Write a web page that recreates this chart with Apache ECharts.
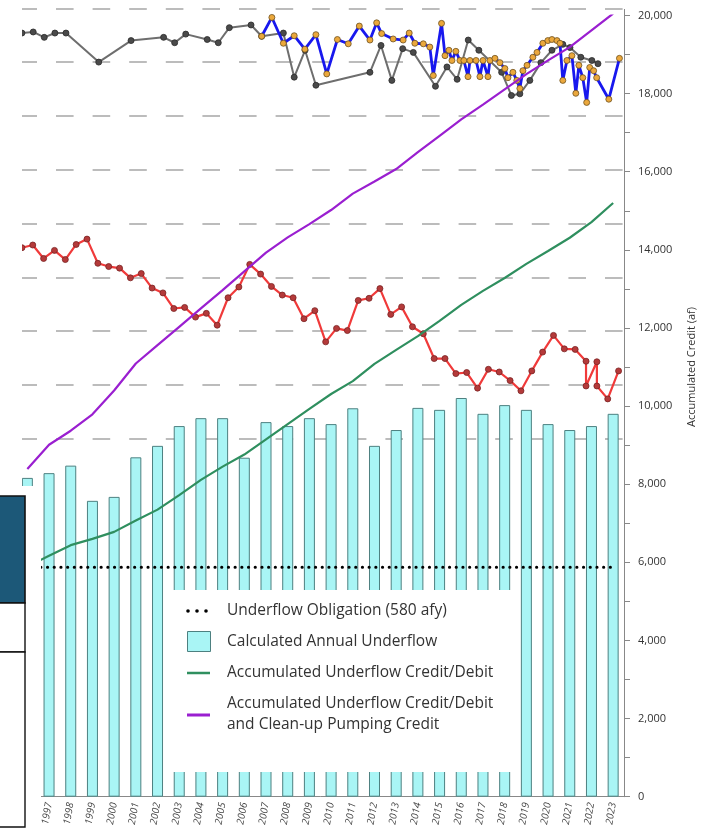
<!DOCTYPE html>
<html>
<head>
<meta charset="utf-8">
<script src="https://cdn.jsdelivr.net/npm/echarts@6/dist/echarts.min.js"></script>
<style>
  html, body { margin: 0; padding: 0; background: #fff; }
  #chart { width: 708px; height: 834px; }
</style>
</head>
<body>
<div id="chart"></div>
<script>
// Water years shown on the category axis
const years = ['1996','1997','1998','1999','2000','2001','2002','2003','2004','2005','2006','2007','2008','2009',
  '2010','2011','2012','2013','2014','2015','2016','2017','2018','2019','2020','2021','2022','2023'];

// Calculated annual underflow (afy)
const annualUnderflow = [806, 818, 837, 748, 758, 858, 887, 937, 957, 957, 857, 947, 937, 957,
  942, 982, 887, 927, 983, 978, 1008, 968, 990, 978, 942, 927, 937, 968];

// Underflow obligation (afy)
const obligationAfy = 580;

// Accumulated underflow credit/debit (af)
const accumCredit = [5890, 6170, 6440, 6600, 6780, 7070, 7350, 7720, 8110, 8450, 8760, 9150, 9540, 9930,
  10310, 10640, 11080, 11440, 11790, 12180, 12590, 12950, 13280, 13640, 13970, 14310, 14710, 15200];

// Accumulated underflow credit/debit plus clean-up pumping credit (af)
const accumWithCleanup = [8390, 9010, 9370, 9790, 10400, 11090, 11560, 12030, 12500, 12970, 13450, 13930, 14320, 14660,
  15020, 15440, 15750, 16070, 16500, 16920, 17340, 17720, 18110, 18500, 18850, 19190, 19620, 20050];

// Right axis ticks
const creditTicks = { min: 0, max: 20000, step: 2000 };

// Well hydrographs (decimal year, level)
const wellRed = [
  [1995.75,35.5],[1996.25,36.0],[1996.75,33.5],[1997.25,35.0],[1997.75,33.3],[1998.25,36.1],[1998.75,37.1],
  [1999.25,32.6],[1999.75,32.0],[2000.25,31.7],[2000.75,29.9],[2001.25,30.7],[2001.75,28.0],[2002.25,27.1],
  [2002.75,24.2],[2003.25,24.4],[2003.75,22.6],[2004.25,23.3],[2004.75,21.1],[2005.25,26.2],[2005.75,28.2],
  [2006.25,32.4],[2006.75,30.6],[2007.25,28.3],[2007.75,26.7],[2008.25,26.2],[2008.75,22.3],[2009.25,23.8],
  [2009.75,18.0],[2010.25,20.5],[2010.75,20.1],[2011.25,25.7],[2011.75,26.1],[2012.25,27.9],[2012.75,23.1],
  [2013.25,24.5],[2013.75,20.8],[2014.25,19.5],[2014.75,14.9],[2015.25,14.9],[2015.75,12.1],[2016.25,12.3],
  [2016.75,9.4],[2017.25,12.9],[2017.75,12.4],[2018.25,10.8],[2018.75,8.9],[2019.25,12.6],[2019.75,16.1],
  [2020.25,19.2],[2020.75,16.7],[2021.25,16.6],[2021.75,14.4],[2021.75,9.8],[2022.25,14.3],[2022.25,9.8],
  [2022.75,7.4],[2023.25,12.6]
];

const wellGray = [
  [1995.75,75.4],[1996.27,75.6],[1996.78,74.6],[1997.27,75.4],[1997.78,75.4],[1999.29,70.0],[2000.78,74.0],
  [2002.28,74.6],[2002.79,73.6],[2003.30,75.2],[2004.29,74.2],[2004.80,73.6],[2005.31,76.4],[2006.31,76.9],
  [2006.80,74.8],[2007.80,75.4],[2008.30,67.2],[2008.80,72.2],[2009.30,65.7],[2011.79,68.1],[2012.30,73.1],
  [2012.80,66.6],[2013.30,72.5],[2013.79,71.8],[2014.81,65.5],[2015.34,69.1],[2015.81,66.8],[2016.32,74.1],
  [2016.81,72.2],[2017.86,68.1],[2018.31,63.8],[2018.70,64.1],[2019.16,66.6],[2019.67,69.9],[2020.18,72.2],
  [2020.68,73.3],[2021.01,72.7],[2021.51,70.9],[2022.02,70.3],[2022.30,69.7]
];

const wellBlue = [
  [2006.80,74.8],[2007.27,78.3],[2007.80,73.5],[2008.30,74.9],[2008.79,72.4],[2009.30,75.1],[2009.80,67.8],
  [2010.29,74.2],[2010.79,73.4],[2011.30,76.7],[2011.79,74.1],[2012.10,77.3],[2012.33,75.3],[2012.86,74.3],
  [2013.32,74.1],[2013.60,75.4],[2013.86,73.5],[2014.25,73.4],[2014.55,72.8],[2014.71,67.5],[2015.09,77.2],
  [2015.25,71.2],[2015.43,72.2],[2015.57,70.3],[2015.75,72.0],[2015.94,70.3],[2016.12,70.3],[2016.31,67.3],
  [2016.40,70.3],[2016.68,70.3],[2016.86,67.3],[2017.00,70.3],[2017.23,67.3],[2017.32,70.3],[2017.55,70.7],
  [2017.78,69.9],[2018.01,68.8],[2018.15,67.1],[2018.38,68.1],[2018.56,66.6],[2018.70,65.1],[2018.84,68.4],
  [2019.03,69.4],[2019.30,70.9],[2019.49,71.8],[2019.76,73.5],[2019.99,74.0],[2020.18,74.2],[2020.41,74.0],
  [2020.55,73.5],[2020.68,66.6],[2020.87,70.3],[2021.10,71.2],[2021.28,64.2],[2021.42,69.4],[2021.60,67.1],
  [2021.78,62.5],[2021.92,69.0],[2022.10,68.4],[2022.24,67.1],[2022.80,63.1],[2023.29,70.7]
];

const legendItems = [
  'Underflow Obligation (580 afy)',
  'Calculated Annual Underflow',
  'Accumulated Underflow Credit/Debit',
  'Accumulated Underflow Credit/Debit',
  'and Clean-up Pumping Credit'
];
const axisTitle = 'Accumulated Credit (af)';

const FONT = '"Open Sans", "Liberation Sans", sans-serif';
const barFill = '#a9f5f5', barEdge = '#4d8080';
const greenColor = '#2f8f5f', purpleColor = '#9a1fd0';

const chart = echarts.init(document.getElementById('chart'), null, { renderer: 'canvas' });

// Legend drawn as graphic elements on a white panel
const ZL = 110;
const legendGraphic = [
  { type: 'rect', z: ZL, shape: { x: 172, y: 590, width: 340, height: 182 }, style: { fill: '#fff' } },
  { type: 'circle', z: ZL + 1, shape: { cx: 188, cy: 611, r: 1.8 }, style: { fill: '#000' } },
  { type: 'circle', z: ZL + 1, shape: { cx: 197, cy: 611, r: 1.8 }, style: { fill: '#000' } },
  { type: 'circle', z: ZL + 1, shape: { cx: 206, cy: 611, r: 1.8 }, style: { fill: '#000' } },
  { type: 'rect', z: ZL + 1, shape: { x: 187.5, y: 631.5, width: 23, height: 20 }, style: { fill: barFill, stroke: barEdge, lineWidth: 1 } },
  { type: 'line', z: ZL + 1, shape: { x1: 187, y1: 673, x2: 210, y2: 673 }, style: { stroke: greenColor, lineWidth: 2.5 } },
  { type: 'line', z: ZL + 1, shape: { x1: 187, y1: 715, x2: 210, y2: 715 }, style: { stroke: purpleColor, lineWidth: 3 } }
];
const legendY = [611, 642, 673, 704, 725];
legendItems.forEach((t, i) => {
  legendGraphic.push({
    type: 'text', z: ZL + 1, x: 227, y: legendY[i],
    style: { text: t, fill: '#333', font: '15.5px ' + FONT, textAlign: 'left', textVerticalAlign: 'middle' }
  });
});

const option = {
  animation: false,
  backgroundColor: '#fff',
  grid: [
    { left: 16.5, right: 84, top: 15.5, bottom: 37.3 },   // main chart
    { left: 16.5, right: 84, top: 8.3, bottom: 395.3 },   // hydrograph lines
    { left: 22, right: 84, top: 8.3, bottom: 395.3 }      // hydrograph grid lines
  ],
  xAxis: [
    {
      type: 'category', gridIndex: 0, data: years, boundaryGap: true,
      axisLine: { lineStyle: { color: '#888', width: 1 } },
      axisTick: { alignWithLabel: true, length: 4, lineStyle: { color: '#888' } },
      axisLabel: { rotate: 80, margin: 6, fontSize: 10, fontStyle: 'italic', color: '#444', fontFamily: FONT, interval: 0 }
    },
    { type: 'value', gridIndex: 1, min: 1995.5, max: 2023.5, show: false },
    { type: 'value', gridIndex: 2, min: 0, max: 1, show: false }
  ],
  yAxis: [
    {
      type: 'value', gridIndex: 0, position: 'right',
      min: creditTicks.min, max: creditTicks.max, interval: creditTicks.step,
      axisLine: { show: true, lineStyle: { color: '#888', width: 1 } },
      axisTick: { show: true, length: 6, inside: false, lineStyle: { color: '#888' } },
      minorTick: { show: true, splitNumber: 2, length: 6, lineStyle: { color: '#888' } },
      splitLine: { show: false },
      axisLabel: { margin: 14, fontSize: 11, color: '#333', fontFamily: FONT,
        formatter: v => v.toLocaleString('en-US') }
    },
    { type: 'value', gridIndex: 0, min: 0, max: 1975, show: false },
    { type: 'value', gridIndex: 1, min: 0, max: 80, show: false },
    {
      type: 'value', gridIndex: 2, min: 0, max: 80, interval: 10,
      axisLine: { show: false }, axisTick: { show: false }, axisLabel: { show: false },
      splitLine: { show: true, lineStyle: { color: '#a6a6a6', width: 1.5, type: [17.6, 19], dashOffset: 2.6 } }
    }
  ],
  series: [
    {
      name: 'Calculated Annual Underflow', type: 'bar', xAxisIndex: 0, yAxisIndex: 1,
      data: annualUnderflow, barWidth: 11, z: 1,
      itemStyle: { color: barFill, borderColor: barEdge, borderWidth: 1 }
    },
    {
      name: 'Underflow Obligation', type: 'line', xAxisIndex: 0, yAxisIndex: 1,
      data: years.map(() => obligationAfy), symbol: 'none', z: 3,
      lineStyle: { color: '#000', width: 3, type: [0.2, 6.5], cap: 'round' }
    },
    {
      name: 'gray well', type: 'line', xAxisIndex: 1, yAxisIndex: 2, data: wellGray, z: 4,
      symbol: 'circle', symbolSize: 6,
      lineStyle: { color: '#6e6e6e', width: 2 },
      itemStyle: { color: '#4a4a4a', borderColor: '#2a2a2a', borderWidth: 0.8 }
    },
    {
      name: 'blue well', type: 'line', xAxisIndex: 1, yAxisIndex: 2, data: wellBlue, z: 5,
      symbol: 'circle', symbolSize: 6,
      lineStyle: { color: '#1818ee', width: 2.8 },
      itemStyle: { color: '#eba83c', borderColor: '#6e5220', borderWidth: 0.8 }
    },
    {
      name: 'red well', type: 'line', xAxisIndex: 1, yAxisIndex: 2, data: wellRed, z: 5,
      symbol: 'circle', symbolSize: 6,
      lineStyle: { color: '#f03a3a', width: 2.2 },
      itemStyle: { color: '#b43a3a', borderColor: '#7a2222', borderWidth: 0.8 }
    },
    {
      name: 'Accumulated Underflow Credit/Debit', type: 'line', xAxisIndex: 0, yAxisIndex: 0,
      data: accumCredit, symbol: 'none', z: 8,
      lineStyle: { color: greenColor, width: 2.2 }
    },
    {
      name: 'Accumulated Underflow Credit/Debit and Clean-up Pumping Credit', type: 'line', xAxisIndex: 0, yAxisIndex: 0,
      data: accumWithCleanup, symbol: 'none', z: 8,
      lineStyle: { color: purpleColor, width: 2.2 }
    }
  ],
  graphic: [
    // white margins on the left edge
    { type: 'rect', z: 100, shape: { x: 0, y: 0, width: 22, height: 486 }, style: { fill: '#fff' } },
    { type: 'rect', z: 100, shape: { x: 0, y: 486, width: 41, height: 348 }, style: { fill: '#fff' } },
    // framed panels at the lower left
    { type: 'rect', z: 101, shape: { x: -2, y: 496, width: 27, height: 107 }, style: { fill: '#1c5878', stroke: '#111', lineWidth: 1.6 } },
    { type: 'rect', z: 101, shape: { x: -2, y: 603, width: 27, height: 49 }, style: { fill: '#fff', stroke: '#111', lineWidth: 1.4 } },
    { type: 'rect', z: 101, shape: { x: -2, y: 652, width: 27, height: 175 }, style: { fill: '#fff', stroke: '#111', lineWidth: 1.4 } },
    // axis line continues slightly above the top tick
    { type: 'line', z: 100, shape: { x1: 624.5, y1: 9, x2: 624.5, y2: 16 }, style: { stroke: '#888', lineWidth: 1 } },
    // axis title
    { type: 'text', z: 100, x: 692, y: 367, rotation: Math.PI / 2,
      style: { text: axisTitle, fill: '#333', font: '11px ' + FONT, textAlign: 'center', textVerticalAlign: 'middle' } }
  ].concat(legendGraphic)
};

chart.setOption(option);
</script>
</body>
</html>
